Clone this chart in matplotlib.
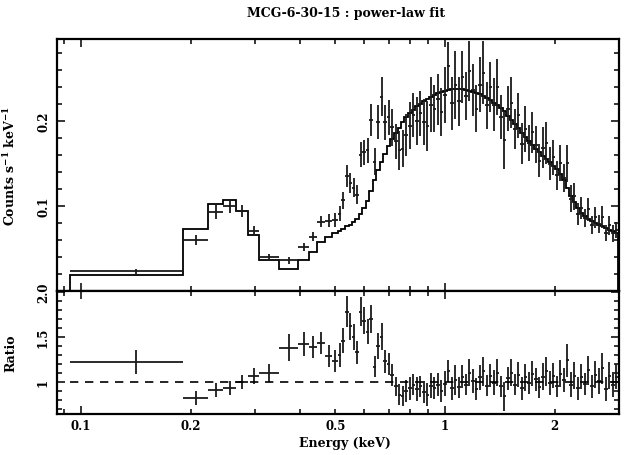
import numpy as np
import matplotlib
matplotlib.use("Agg")
import matplotlib.pyplot as plt
from matplotlib.ticker import FixedLocator, FixedFormatter, NullFormatter, MultipleLocator

plt.rcParams['font.family'] = ['DejaVu Serif']
plt.rcParams['font.weight'] = 'bold'
plt.rcParams['mathtext.fontset'] = 'dejavuserif'

# ---------------- data ----------------
# energy bin edges (keV)
edges = [0.093, 0.1906, 0.2233, 0.2455, 0.2665, 0.2877, 0.3084, 0.350, 0.3947, 0.4229,
         0.4449, 0.468, 0.4893,
         0.5082, 0.5195, 0.5312, 0.5431, 0.5552, 0.5676, 0.5803, 0.5933, 0.6066, 0.6201,
         0.6340, 0.6482, 0.6628, 0.6776, 0.6928, 0.7083, 0.7241, 0.7404, 0.7570, 0.7739,
         0.7913, 0.8090, 0.8271, 0.8456, 0.8646, 0.8839, 0.9037, 0.9239, 0.9447, 0.9658,
         0.9874, 1.0095, 1.0321, 1.0552, 1.0788, 1.1030, 1.1276, 1.1529, 1.1788, 1.2052,
         1.2321, 1.2597, 1.2879, 1.3168, 1.3462, 1.3764, 1.4072, 1.4387, 1.4710, 1.5039,
         1.5376, 1.5720, 1.6072, 1.6432, 1.6800, 1.7176, 1.7561, 1.7954, 1.8356, 1.8767,
         1.9187, 1.9617, 2.0056, 2.0505, 2.0964, 2.1434, 2.1914, 2.2404, 2.2906, 2.3419,
         2.3943, 2.4479, 2.5027, 2.5588, 2.6161, 2.6747, 2.7345, 2.7958, 2.8584, 2.9224,
         2.9878]

# power-law model (counts s^-1 keV^-1) per bin
model = [0.0188, 0.073, 0.102, 0.107, 0.094, 0.066, 0.036, 0.026, 0.036, 0.046,
         0.057, 0.064, 0.068,
         0.070, 0.073, 0.076, 0.078, 0.081, 0.085, 0.090, 0.097, 0.106, 0.118,
         0.130, 0.142, 0.152, 0.161, 0.170, 0.178, 0.185, 0.192, 0.199, 0.204,
         0.209, 0.213, 0.217, 0.220, 0.223, 0.226, 0.228, 0.230, 0.232, 0.234,
         0.235, 0.236, 0.237, 0.237, 0.237, 0.237, 0.236, 0.235, 0.234, 0.233,
         0.231, 0.229, 0.227, 0.224, 0.221, 0.218, 0.215, 0.211, 0.206, 0.201,
         0.196, 0.191, 0.186, 0.181, 0.176, 0.171, 0.167, 0.163, 0.159, 0.155,
         0.151, 0.147, 0.143, 0.138, 0.130, 0.121, 0.112, 0.104, 0.097, 0.092,
         0.088, 0.085, 0.082, 0.080, 0.078, 0.076, 0.074, 0.072, 0.070, 0.068]

# data / model ratio per bin
ratio = [1.22, 0.82, 0.91, 0.935, 1.00, 1.07, 1.10, 1.38, 1.42, 1.39,
         1.43, 1.29, 1.23,
         1.30, 1.46, 1.78, 1.62, 1.50, 1.33, 1.78, 1.68, 1.56, 1.70,
         1.17, 1.40, 1.50, 1.23, 1.20, 1.08, 0.95, 0.86, 0.84, 0.90,
         0.93, 0.97, 0.92, 0.95, 0.89, 0.86, 0.96, 0.93, 0.97, 0.90,
         0.98, 1.12, 0.93, 1.02, 0.94, 1.06, 0.97, 1.10, 1.01, 0.92,
         1.05, 1.12, 0.96, 1.07, 0.99, 1.10, 0.95, 0.84, 1.04, 1.10,
         0.97, 1.08, 0.93, 1.05, 0.99, 1.09, 1.03, 0.94, 1.06, 1.12,
         0.99, 1.07, 0.95, 1.09, 1.02, 1.24, 0.97, 1.07, 0.93, 1.06,
         0.98, 1.13, 0.95, 1.08, 1.01, 1.15, 0.92, 1.07, 0.97, 1.06]

# 1-sigma error on the ratio per bin
ratio_err = [0.13, 0.08, 0.08, 0.08, 0.08, 0.09, 0.10, 0.15, 0.13, 0.12,
             0.12, 0.12, 0.12,
             0.13, 0.14, 0.17, 0.15, 0.14, 0.13, 0.16, 0.15, 0.14, 0.16,
             0.12, 0.14, 0.15, 0.13, 0.12, 0.12, 0.11, 0.12, 0.11, 0.12,
             0.13, 0.12, 0.13, 0.12, 0.12, 0.13, 0.14, 0.12, 0.13, 0.12,
             0.14, 0.12, 0.13, 0.17, 0.12, 0.13, 0.12, 0.15, 0.13, 0.12,
             0.14, 0.16, 0.12, 0.13, 0.14, 0.15, 0.12, 0.16, 0.13, 0.15,
             0.12, 0.14, 0.13, 0.15, 0.12, 0.14, 0.13, 0.12, 0.15, 0.16,
             0.13, 0.14, 0.12, 0.15, 0.13, 0.18, 0.14, 0.15, 0.13, 0.14,
             0.12, 0.16, 0.13, 0.15, 0.14, 0.17, 0.13, 0.15, 0.14, 0.14]

title = "MCG-6-30-15 : power-law fit"
xtick_major = [0.1, 1]
xtick_major_labels = ["0.1", "1"]
xtick_minor = [0.09, 0.2, 0.3, 0.4, 0.5, 0.6, 0.7, 0.8, 0.9, 2, 3]
xtick_minor_labels = ["", "0.2", "", "", "0.5", "", "", "", "", "2", ""]
ytop_ticks = [0.1, 0.2]
ytop_labels = ["0.1", "0.2"]
ybot_ticks = [1, 1.5, 2]
ybot_labels = ["1", "1.5", "2.0"]

# ---------------- derived ----------------
ed = np.array(edges)
lo, hi = ed[:-1], ed[1:]
E = (lo + hi) / 2
dE = (hi - lo) / 2
m = np.array(model)
r = np.array(ratio)
re = np.array(ratio_err)
rate = r * m
rate_err = re * m

# ---------------- figure ----------------
fig = plt.figure(figsize=(6.27, 4.56), dpi=100)
L, R = 57 / 627, 619 / 627
ax1 = fig.add_axes([L, 1 - 292 / 456, R - L, (292 - 40) / 456])
ax2 = fig.add_axes([L, 1 - 414.5 / 456, R - L, (414.5 - 292) / 456], sharex=ax1)

lw = 1.3
ax1.errorbar(E, rate, xerr=dE, yerr=rate_err, fmt='none', ecolor='#1a1a1a',
             elinewidth=lw, capsize=0)
ax1.stairs(m, ed, color='black', linewidth=1.3)

ax2.errorbar(E, r, xerr=dE, yerr=re, fmt='none', ecolor='#1a1a1a',
             elinewidth=lw, capsize=0)
ax2.hlines(1.0, ed[0], ed[-1], colors='black', linestyles=(0, (5, 4)), linewidth=1.2)

ax1.set_xscale('log')
ax1.set_xlim(0.0859, 3.006)
ax1.set_ylim(0.0, 0.296)
ax2.set_ylim(0.65, 2.011)

for ax in (ax1, ax2):
    ax.xaxis.set_major_locator(FixedLocator(xtick_major))
    ax.xaxis.set_minor_locator(FixedLocator(xtick_minor))
    ax.tick_params(which='both', direction='in', top=True, right=True, width=1.1)
    ax.tick_params(which='major', length=6)
    ax.tick_params(which='minor', length=3.5)
    for s in ax.spines.values():
        s.set_linewidth(1.6)

ax1.xaxis.set_major_formatter(NullFormatter())
ax1.xaxis.set_minor_formatter(NullFormatter())
ax2.xaxis.set_major_formatter(FixedFormatter(xtick_major_labels))
ax2.xaxis.set_minor_formatter(FixedFormatter(xtick_minor_labels))
ax2.tick_params(axis='x', which='both', labelsize=8.5, pad=4)

ax1.yaxis.set_major_locator(FixedLocator(ytop_ticks))
ax1.yaxis.set_major_formatter(FixedFormatter(ytop_labels))
ax1.yaxis.set_minor_locator(MultipleLocator(0.02))
ax2.yaxis.set_major_locator(FixedLocator(ybot_ticks))
ax2.yaxis.set_major_formatter(FixedFormatter(ybot_labels))
ax2.yaxis.set_minor_locator(MultipleLocator(0.1))
for ax in (ax1, ax2):
    ax.tick_params(axis='y', which='both', labelsize=8.5, labelrotation=90, pad=5)
    for t in ax.get_yticklabels():
        t.set_va('center')

ax1.set_ylabel(r'Counts s$^{\mathbf{-1}}$ keV$^{\mathbf{-1}}$', fontsize=9, fontweight='bold')
ax1.yaxis.set_label_coords(-0.07, 0.5)
ax2.set_ylabel('Ratio', fontsize=9, fontweight='bold')
ax2.yaxis.set_label_coords(-0.07, 0.5)

fig.text(346 / 627, 1 - 14 / 456, title, ha='center', va='center', fontsize=9, fontweight='bold')
fig.text(345 / 627, 1 - 444 / 456, 'Energy (keV)', ha='center', va='center', fontsize=9, fontweight='bold')

fig.savefig('out.png', dpi=100)
